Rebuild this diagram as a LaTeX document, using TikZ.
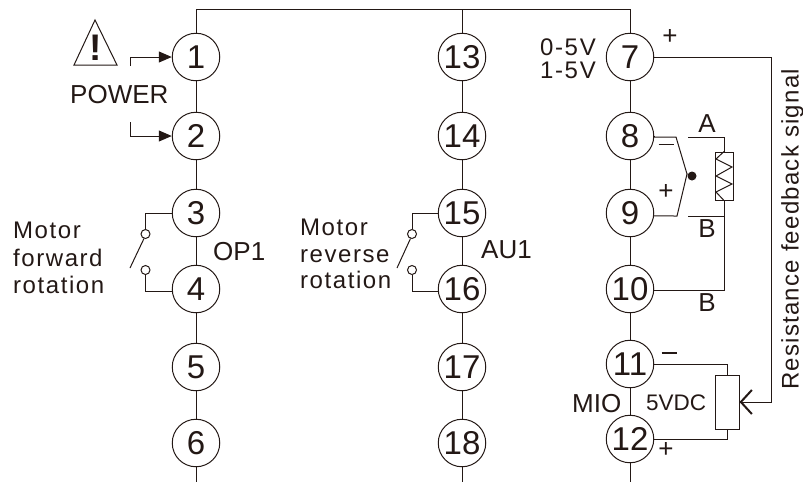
\documentclass[tikz,border=0pt]{standalone}
\usepackage{fontspec}
\setmainfont{Liberation Sans}
\newfontfamily\spaced[LetterSpace=6.5]{Liberation Sans}
\newfontfamily\spacedres[LetterSpace=5.2]{Liberation Sans}
\newfontfamily\spacedless[LetterSpace=7]{Liberation Sans}
\usetikzlibrary{arrows.meta}
\definecolor{ink}{RGB}{35,24,21}
\tikzset{
  wire/.style={draw=ink,line width=1pt},
  term/.style={circle,draw=ink,line width=1pt,minimum size=47.5pt,inner sep=0pt,text=ink,font=\fontsize{33}{33}\selectfont},
  contact/.style={circle,draw=ink,line width=1pt,minimum size=9pt,inner sep=0pt},
  lbl/.style={text=ink,inner sep=0pt,font=\fontsize{26}{26}\selectfont},
  volt/.style={text=ink,inner sep=0pt,font=\fontsize{24}{24}\spacedless},
  lblsmall/.style={text=ink,inner sep=0pt,font=\fontsize{22.5}{22.5}\selectfont},
  wide/.style={text=ink,inner sep=0pt,font=\fontsize{24}{24}\spaced},
  wideres/.style={text=ink,inner sep=0pt,font=\fontsize{24}{24}\spacedres},
  sign/.style={text=ink,inner sep=0pt,font=\fontsize{26}{26}\selectfont},
  feed/.style={-{Stealth[length=13pt,width=11pt,inset=0pt]}},
  barb/.style={-{Straight Barb[length=11pt,width=24pt,line width=2pt]}},
}
\begin{document}
\begin{tikzpicture}[x=1pt,y=-1pt]
\useasboundingbox (0,0) rectangle (803,483);
% terminals
\foreach \n/\y in {1/57,2/136,3/213,4/289,5/367,6/443}{\node[term] (n\n) at (196,\y) {\n};}
\foreach \n/\y in {13/57,14/136,15/213,16/289,17/367,18/443}{\node[term] (n\n) at (462,\y) {\n};}
\foreach \n/\y in {7/57,8/136,9/213,10/289,11/364,12/439}{\node[term] (n\n) at (630,\y) {\n};}
% free ends
\coordinate (tl) at (196,9);
\coordinate (tr) at (630,9);
\coordinate (tm) at (462,9);
\coordinate (b1) at (196,482);
\coordinate (b2) at (462,482);
\coordinate (b3) at (630,482);
% buses
\draw[wire] (n1) -- (tl) -- (tr) -- (n7);
\draw[wire] (tm) -- (n13);
\foreach \a/\b in {1/2,2/3,3/4,4/5,5/6,13/14,14/15,15/16,16/17,17/18,7/8,8/9,9/10,10/11,11/12}{\draw[wire] (n\a) -- (n\b);}
\draw[wire] (n6) -- (b1);
\draw[wire] (n18) -- (b2);
\draw[wire] (n12) -- (b3);
% power
\coordinate (p1) at (130,66);
\coordinate (p2) at (130,122);
\draw[wire,feed] (p1) |- (n1.west);
\draw[wire,feed] (p2) |- (n2.west);
\node[lbl,anchor=base west] (power) at (70,103) {POWER};
\coordinate (wa) at (95,20);
\coordinate (wb) at (74,65);
\coordinate (wc) at (117,65);
\draw[wire,line join=miter] (wa) -- (wb) -- (wc) -- cycle;
\node[text=ink,inner sep=0pt,anchor=base,font=\fontsize{37}{37}\bfseries] (bang) at (95.5,60) {!};
% switch OP1
\node[contact] (c3) at (145.5,234) {};
\node[contact] (c4) at (145.5,270) {};
\coordinate (k1a) at (130,268);
\coordinate (k1b) at (144,238.5);
\draw[wire] (n3.west) -| (c3);
\draw[wire] (n4.185) -| (c4);
\draw[wire] (k1a) -- (k1b);
\node[wide,anchor=base west] (m1) at (13,238) {Motor};
\node[wide,anchor=base west] (f1) at (13,266) {forward};
\node[wide,anchor=base west] (r1) at (13,293) {rotation};
\node[lbl,anchor=base west] (op) at (213,260) {OP1};
% switch AU1
\node[contact] (c15) at (412,234) {};
\node[contact] (c16) at (412,270) {};
\coordinate (k2a) at (397,268);
\coordinate (k2b) at (410.5,238.5);
\draw[wire] (n15.west) -| (c15);
\draw[wire] (n16.185) -| (c16);
\draw[wire] (k2a) -- (k2b);
\node[wide,anchor=base west] (m2) at (300,235) {Motor};
\node[wide,anchor=base west] (f2) at (300,262) {reverse};
\node[wide,anchor=base west] (r2) at (300,288) {rotation};
\node[lbl,anchor=base west] (au) at (481,258) {AU1};
% right column labels
\node[volt,anchor=base east] (v0) at (596,55) {0-5V};
\node[volt,anchor=base east] (v1) at (596,78) {1-5V};
\node[sign] (plus7) at (670,37) {+};
\node[lbl,anchor=base] (la) at (707,132) {A};
\node[lbl,anchor=base] (lb) at (707,237) {B};
\node[lbl,anchor=base] (lb2) at (707,311) {B};
\node[sign] (minus8) at (666,144.5) {\rule{15pt}{1.2pt}};
\node[sign] (plus9) at (666,192) {+};
% RTD element
\node[draw=ink,line width=1pt,minimum width=18pt,minimum height=48pt,inner sep=0pt] (rtd) at (724,176) {};
\draw[wire] (rtd.north) -- (716,159) -- (732,167) -- (716,176) -- (732,184) -- (716,192) -- (rtd.south);
\coordinate (ra) at (724,137);
\coordinate (rb) at (688,137);
\coordinate (rc) at (688,216);
\coordinate (rd) at (724,216);
\coordinate (re) at (724,290);
\draw[wire] (rb) -- (ra) -- (rtd.north);
\draw[wire] (rtd.south) -- (re) -- (n10.east |- re);
\draw[wire] (rc) -- (rd);
% probe fork
\node[circle,fill=ink,minimum size=9pt,inner sep=0pt] (dot) at (692,176) {};
\coordinate (fa) at (676,137);
\coordinate (fb) at (687,174);
\coordinate (fc) at (677,216);
\draw[wire] (n8.east) |- (fa) -- (fb) -- (dot);
\draw[wire] (n9.-7) -- (fc) -- (fb);
% MIO
\node[lbl,anchor=base west] (mio) at (572,412) {MIO};
\node[lblsmall,anchor=base west] (vdc) at (646,410) {5VDC};
\node[sign] (minus11) at (669,353) {\rule{15pt}{1.2pt}};
\node[sign] (plus12) at (666,450) {+};
\node[draw=ink,line width=1pt,minimum width=24pt,minimum height=54pt,inner sep=0pt] (pot) at (727,402) {};
\draw[wire] (n11.east) -| (pot.north);
\draw[wire] (n12.east) -| (pot.south);
% feedback
\coordinate (g1) at (771.5,57);
\coordinate (g2) at (771.5,402);
\draw[wire] (n7.east) -- (g1) -- (g2);
\draw[wire,barb] (g2) -- (pot.east);
\node[wideres,anchor=base west,rotate=90] (res) at (798.5,390) {Resistance feedback signal};
\end{tikzpicture}
\end{document}
